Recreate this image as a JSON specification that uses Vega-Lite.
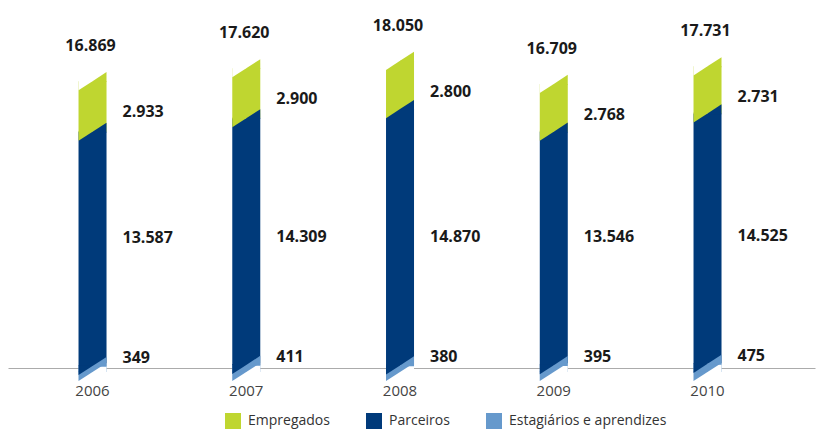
{
  "$schema": "https://vega.github.io/schema/vega-lite/v6.json",
  "width": 807,
  "height": 362,
  "padding": {"left": 8, "top": 10, "right": 4, "bottom": 0},
  "background": "white",
  "config": {
    "view": {"stroke": null},
    "font": "Open Sans",
    "locale": {"number": {"decimal": ",", "thousands": ".", "grouping": [3], "currency": ["R$ ", ""]}}
  },
  "data": {
    "values": [
      {"year": "2006", "series": "Estagiários e aprendizes", "ordem": 1, "value": 349},
      {"year": "2006", "series": "Parceiros", "ordem": 2, "value": 13587},
      {"year": "2006", "series": "Empregados", "ordem": 3, "value": 2933},
      {"year": "2007", "series": "Estagiários e aprendizes", "ordem": 1, "value": 411},
      {"year": "2007", "series": "Parceiros", "ordem": 2, "value": 14309},
      {"year": "2007", "series": "Empregados", "ordem": 3, "value": 2900},
      {"year": "2008", "series": "Estagiários e aprendizes", "ordem": 1, "value": 380},
      {"year": "2008", "series": "Parceiros", "ordem": 2, "value": 14870},
      {"year": "2008", "series": "Empregados", "ordem": 3, "value": 2800},
      {"year": "2009", "series": "Estagiários e aprendizes", "ordem": 1, "value": 395},
      {"year": "2009", "series": "Parceiros", "ordem": 2, "value": 13546},
      {"year": "2009", "series": "Empregados", "ordem": 3, "value": 2768},
      {"year": "2010", "series": "Estagiários e aprendizes", "ordem": 1, "value": 475},
      {"year": "2010", "series": "Parceiros", "ordem": 2, "value": 14525},
      {"year": "2010", "series": "Empregados", "ordem": 3, "value": 2731}
    ]
  },
  "transform": [
    {"stack": "value", "groupby": ["year"], "sort": [{"field": "ordem", "order": "ascending"}], "as": ["y0", "y1"]}
  ],
  "layer": [
    {
      "mark": {"type": "bar", "width": 28},
      "encoding": {
        "x": {"field": "year", "type": "nominal", "title": null, "scale": {"paddingInner": 0, "paddingOuter": 0.1244, "align": 0.2}, "axis": {"domain": true, "domainColor": "#ABABAB", "domainWidth": 1, "ticks": false, "labelAngle": 0, "labelFont": "Open Sans", "labelFontSize": 15, "labelColor": "#444444", "labelPadding": 15, "offset": -4}},
        "y": {"field": "y1", "type": "quantitative", "scale": {"domain": [0, 21000], "nice": false, "zero": true}, "axis": null},
        "y2": {"field": "y0"},
        "color": {
          "field": "series", "type": "nominal",
          "scale": {"domain": ["Empregados", "Parceiros", "Estagiários e aprendizes"], "range": ["#BFD630", "#003A7A", "#6699CC"]},
          "legend": {"title": null, "orient": "none", "legendX": 217, "legendY": 403, "direction": "horizontal", "symbolType": "square", "symbolSize": 256, "symbolStrokeWidth": 0, "symbolOpacity": 1, "labelFont": "Open Sans", "labelFontSize": 14, "labelColor": "#333333", "labelOffset": 7, "columnPadding": 36, "padding": 0}
        }
      }
    },
    {
      "transform": [{"filter": "datum.ordem == 1"}],
      "mark": {"type": "point", "shape": "M0,0L0,0.06L1,0.06L1,-0.65Z", "size": 784, "filled": true, "fill": "white", "opacity": 1, "strokeWidth": 0},
      "encoding": {
        "x": {"field": "year", "type": "nominal", "title": null, "scale": {"paddingInner": 0, "paddingOuter": 0.1244, "align": 0.2}, "axis": {"domain": true, "domainColor": "#ABABAB", "domainWidth": 1, "ticks": false, "labelAngle": 0, "labelFont": "Open Sans", "labelFontSize": 15, "labelColor": "#444444", "labelPadding": 15, "offset": -4}},
        "y": {"field": "y0", "type": "quantitative", "scale": {"domain": [0, 21000], "nice": false, "zero": true}, "axis": null}
      }
    },
    {
      "mark": {"type": "point", "shape": "M-1,-0.06L0,-0.06L0,0L-1,0.65Z", "size": 784, "filled": true, "opacity": 1, "strokeWidth": 0},
      "encoding": {
        "x": {"field": "year", "type": "nominal", "title": null, "scale": {"paddingInner": 0, "paddingOuter": 0.1244, "align": 0.2}, "axis": {"domain": true, "domainColor": "#ABABAB", "domainWidth": 1, "ticks": false, "labelAngle": 0, "labelFont": "Open Sans", "labelFontSize": 15, "labelColor": "#444444", "labelPadding": 15, "offset": -4}},
        "y": {"field": "y0", "type": "quantitative", "scale": {"domain": [0, 21000], "nice": false, "zero": true}, "axis": null},
        "fill": {"field": "series", "type": "nominal", "scale": {"domain": ["Empregados", "Parceiros", "Estagiários e aprendizes"], "range": ["#BFD630", "#003A7A", "#6699CC"]}, "legend": null}
      }
    },
    {
      "mark": {"type": "point", "shape": "M0,0L0,0.06L1,0.06L1,-0.65Z", "size": 784, "filled": true, "opacity": 1, "strokeWidth": 0},
      "encoding": {
        "x": {"field": "year", "type": "nominal", "title": null, "scale": {"paddingInner": 0, "paddingOuter": 0.1244, "align": 0.2}, "axis": {"domain": true, "domainColor": "#ABABAB", "domainWidth": 1, "ticks": false, "labelAngle": 0, "labelFont": "Open Sans", "labelFontSize": 15, "labelColor": "#444444", "labelPadding": 15, "offset": -4}},
        "y": {"field": "y1", "type": "quantitative", "scale": {"domain": [0, 21000], "nice": false, "zero": true}, "axis": null},
        "fill": {"field": "series", "type": "nominal", "scale": {"domain": ["Empregados", "Parceiros", "Estagiários e aprendizes"], "range": ["#BFD630", "#003A7A", "#6699CC"]}, "legend": null}
      }
    },
    {
      "transform": [{"filter": "datum.ordem == 3"}],
      "mark": {"type": "point", "shape": "M-1,-0.06L0,-0.06L0,0L-1,0.65Z", "size": 784, "filled": true, "fill": "white", "opacity": 1, "strokeWidth": 0},
      "encoding": {
        "x": {"field": "year", "type": "nominal", "title": null, "scale": {"paddingInner": 0, "paddingOuter": 0.1244, "align": 0.2}, "axis": {"domain": true, "domainColor": "#ABABAB", "domainWidth": 1, "ticks": false, "labelAngle": 0, "labelFont": "Open Sans", "labelFontSize": 15, "labelColor": "#444444", "labelPadding": 15, "offset": -4}},
        "y": {"field": "y1", "type": "quantitative", "scale": {"domain": [0, 21000], "nice": false, "zero": true}, "axis": null}
      }
    },
    {
      "transform": [{"filter": "datum.ordem == 3"}],
      "mark": {"type": "text", "align": "center", "baseline": "middle", "dx": -2, "dy": -35, "font": "Open Sans", "fontSize": 16, "fontWeight": "bold", "color": "#1a1a1a"},
      "encoding": {
        "x": {"field": "year", "type": "nominal", "title": null, "scale": {"paddingInner": 0, "paddingOuter": 0.1244, "align": 0.2}, "axis": {"domain": true, "domainColor": "#ABABAB", "domainWidth": 1, "ticks": false, "labelAngle": 0, "labelFont": "Open Sans", "labelFontSize": 15, "labelColor": "#444444", "labelPadding": 15, "offset": -4}},
        "y": {"field": "y1", "type": "quantitative", "scale": {"domain": [0, 21000], "nice": false, "zero": true}, "axis": null},
        "text": {"field": "y1", "type": "quantitative", "format": ",d"}
      }
    },
    {
      "transform": [{"filter": "datum.ordem == 3"}],
      "mark": {"type": "text", "align": "left", "baseline": "middle", "dx": 30, "dy": 31, "font": "Open Sans", "fontSize": 16, "fontWeight": "bold", "color": "#1a1a1a"},
      "encoding": {
        "x": {"field": "year", "type": "nominal", "title": null, "scale": {"paddingInner": 0, "paddingOuter": 0.1244, "align": 0.2}, "axis": {"domain": true, "domainColor": "#ABABAB", "domainWidth": 1, "ticks": false, "labelAngle": 0, "labelFont": "Open Sans", "labelFontSize": 15, "labelColor": "#444444", "labelPadding": 15, "offset": -4}},
        "y": {"field": "y1", "type": "quantitative", "scale": {"domain": [0, 21000], "nice": false, "zero": true}, "axis": null},
        "text": {"field": "value", "type": "quantitative", "format": ",d"}
      }
    },
    {
      "transform": [{"filter": "datum.ordem == 2"}],
      "mark": {"type": "text", "align": "left", "baseline": "middle", "dx": 30, "dy": -128, "font": "Open Sans", "fontSize": 16, "fontWeight": "bold", "color": "#1a1a1a"},
      "encoding": {
        "x": {"field": "year", "type": "nominal", "title": null, "scale": {"paddingInner": 0, "paddingOuter": 0.1244, "align": 0.2}, "axis": {"domain": true, "domainColor": "#ABABAB", "domainWidth": 1, "ticks": false, "labelAngle": 0, "labelFont": "Open Sans", "labelFontSize": 15, "labelColor": "#444444", "labelPadding": 15, "offset": -4}},
        "y": {"field": "y0", "type": "quantitative", "scale": {"domain": [0, 21000], "nice": false, "zero": true}, "axis": null},
        "text": {"field": "value", "type": "quantitative", "format": ",d"}
      }
    },
    {
      "transform": [{"filter": "datum.ordem == 1"}],
      "mark": {"type": "text", "align": "left", "baseline": "middle", "dx": 30, "dy": -8, "font": "Open Sans", "fontSize": 16, "fontWeight": "bold", "color": "#1a1a1a"},
      "encoding": {
        "x": {"field": "year", "type": "nominal", "title": null, "scale": {"paddingInner": 0, "paddingOuter": 0.1244, "align": 0.2}, "axis": {"domain": true, "domainColor": "#ABABAB", "domainWidth": 1, "ticks": false, "labelAngle": 0, "labelFont": "Open Sans", "labelFontSize": 15, "labelColor": "#444444", "labelPadding": 15, "offset": -4}},
        "y": {"field": "y1", "type": "quantitative", "scale": {"domain": [0, 21000], "nice": false, "zero": true}, "axis": null},
        "text": {"field": "value", "type": "quantitative", "format": ",d"}
      }
    }
  ]
}
